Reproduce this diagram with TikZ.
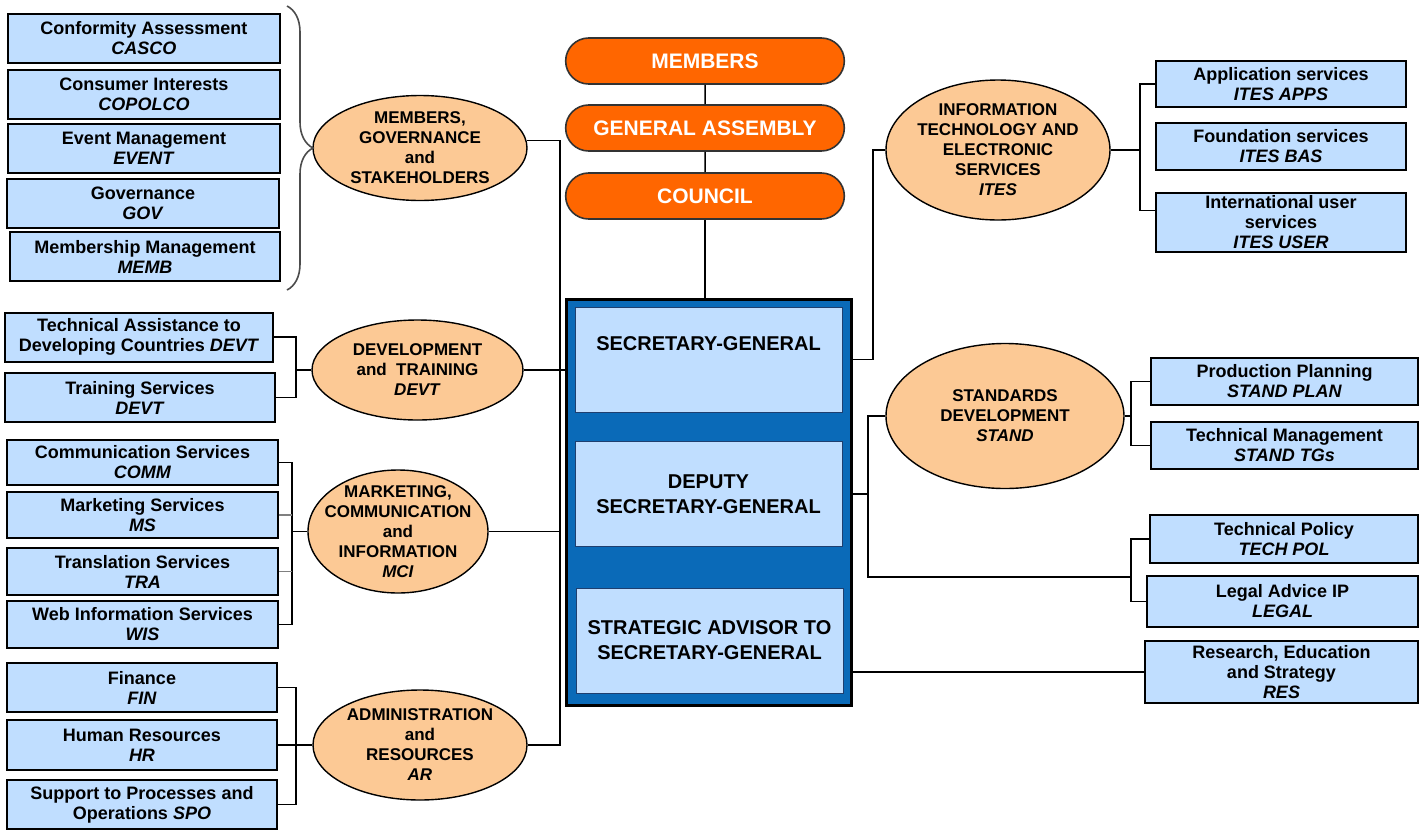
\documentclass[tikz,border=0pt]{standalone}
\usepackage{fontspec}
\setmainfont{Liberation Sans}
\usetikzlibrary{shapes.geometric, shapes.misc, decorations.pathreplacing}

\definecolor{unitblue}{HTML}{C0DEFF}
\definecolor{deptorange}{HTML}{FCC995}
\definecolor{boardorange}{HTML}{FF6600}
\definecolor{sgblue}{HTML}{0A6AB8}
\definecolor{sgline}{HTML}{1F3F6F}

\newcommand{\abbr}[1]{\textit{#1}}

\tikzset{
    unit/.style={draw=black, line width=1pt, fill=unitblue, align=center, inner sep=0pt,
        minimum width=136pt, minimum height=24.5pt, font=\fontsize{9}{10}\selectfont\bfseries},
    dept/.style={ellipse, draw=black, line width=0.7pt, fill=deptorange, inner sep=0pt},
    depttext/.style={align=center, inner sep=0pt, font=\fontsize{8.5}{10}\selectfont\bfseries},
    board/.style={rounded rectangle, draw=black!80, line width=0.8pt, fill=boardorange, text=white,
        minimum width=146pt, minimum height=23pt, font=\fontsize{10.5}{12}\selectfont\bfseries},
    office/.style={draw=sgline, line width=0.5pt, fill=unitblue, align=center,
        minimum width=133.5pt, minimum height=52.5pt, font=\fontsize{10}{12.5}\selectfont\bfseries},
    link/.style={draw=black, line width=0.75pt},
    thinlink/.style={draw=black, line width=0.6pt},
}

\begin{document}
\begin{tikzpicture}[x=0.5pt, y=-0.5pt]
    \useasboundingbox (0,0) rectangle (1426,831);

    % governing bodies
    \node[board] (members) at (705,61) {MEMBERS};
    \node[board] (ga) at (705,128) {GENERAL ASSEMBLY};
    \node[board] (council) at (705,196) {COUNCIL};

    % secretariat
    \node[draw=black, line width=1.5pt, fill=sgblue, minimum width=142.5pt, minimum height=203pt] (sgframe) at (708.5,502) {};
    \node[office] (sg) at (708.5,359.5) {SECRETARY-GENERAL\\ \strut};
    \node[office] (dsg) at (708.5,494) {DEPUTY\\SECRETARY-GENERAL};
    \node[office] (sa) at (709.5,640.5) {STRATEGIC ADVISOR TO\\SECRETARY-GENERAL};

    % left departments
    \node[unit] (casco) at (144,38.5) {Conformity Assessment\\\abbr{CASCO}};
    \node[unit] (copolco) at (144,94) {Consumer Interests\\\abbr{COPOLCO}};
    \node[unit] (event) at (144,148.5) {Event Management\\\abbr{EVENT}};
    \node[unit] (gov) at (143,203.5) {Governance\\\abbr{GOV}};
    \node[unit, minimum width=135pt] (memb) at (145,256.5) {Membership Management\\\abbr{MEMB}};
    \node[dept, minimum width=107pt, minimum height=52.5pt,
        label={[depttext]center:{MEMBERS,\\GOVERNANCE\\and\\STAKEHOLDERS}}] (mgs) at (420,148) {};

    \node[unit, minimum width=134pt] (tadc) at (139,337) {Technical Assistance to\\Developing Countries \abbr{DEVT}};
    \node[unit, minimum width=135pt] (train) at (140,397.5) {Training Services\\\abbr{DEVT}};
    \node[dept, minimum width=105.5pt, minimum height=50pt,
        label={[depttext]center:{DEVELOPMENT\\and\ \ TRAINING\\\abbr{DEVT}}}] (devt) at (417.5,370) {};

    \node[unit, minimum width=135.5pt, minimum height=22.5pt] (comm) at (142.5,462.5) {Communication Services\\\abbr{COMM}};
    \node[unit, minimum width=135.5pt, minimum height=23pt] (ms) at (142.5,515) {Marketing Services\\\abbr{MS}};
    \node[unit, minimum width=135.5pt, minimum height=23.5pt] (tra) at (142.5,571.5) {Translation Services\\\abbr{TRA}};
    \node[unit, minimum width=135.5pt, minimum height=23.5pt] (wis) at (142.5,624.5) {Web Information Services\\\abbr{WIS}};
    \node[dept, minimum width=90pt, minimum height=61.5pt,
        label={[depttext]center:{MARKETING,\\COMMUNICATION\\and\\INFORMATION\\\abbr{MCI}}}] (mci) at (398,531.5) {};

    \node[unit, minimum width=135pt] (fin) at (142,687.5) {Finance\\\abbr{FIN}};
    \node[unit, minimum width=135pt, minimum height=25pt] (hr) at (142,745) {Human Resources\\\abbr{HR}};
    \node[unit, minimum width=135pt] (spo) at (142,804.5) {Support to Processes and\\Operations \abbr{SPO}};
    \node[dept, minimum width=107pt, minimum height=55pt,
        label={[depttext]center:{ADMINISTRATION\\and\\RESOURCES\\\abbr{AR}}}] (ar) at (420,745) {};

    % right departments
    \node[dept, minimum width=112pt, minimum height=70pt,
        label={[depttext]center:{INFORMATION\\TECHNOLOGY AND\\ELECTRONIC\\SERVICES\\\abbr{ITES}}}] (ites) at (998,150) {};
    \node[unit, minimum width=125pt, minimum height=23pt] (apps) at (1281,84) {Application services\\\abbr{ITES APPS}};
    \node[unit, minimum width=125pt, minimum height=23.5pt] (bas) at (1281,146.5) {Foundation services\\\abbr{ITES BAS}};
    \node[unit, minimum width=125pt, minimum height=29.5pt] (user) at (1281,222.5) {International user\\services\\\abbr{ITES USER}};

    \node[dept, minimum width=119pt, minimum height=72.5pt,
        label={[depttext]center:{STANDARDS\\DEVELOPMENT\\\abbr{STAND}}}] (stand) at (1005,416) {};
    \node[unit, minimum width=133.5pt, minimum height=23.5pt] (plan) at (1284.5,381.5) {Production Planning\\\abbr{STAND PLAN}};
    \node[unit, minimum width=133.5pt, minimum height=23.5pt] (tgs) at (1284.5,445.5) {Technical Management\\\abbr{STAND TGs}};

    \node[unit, minimum width=134pt, minimum height=24pt] (techpol) at (1284,539) {Technical Policy\\\abbr{TECH POL}};
    \node[unit, minimum width=135.5pt, minimum height=25.5pt] (legal) at (1282.5,601.5) {Legal Advice IP\\\abbr{LEGAL}};
    \node[unit, minimum width=136.5pt, minimum height=31pt] (res) at (1281.5,672) {Research, Education\\and Strategy\\\abbr{RES}};

    % connectors
    \draw[link] (members) -- (ga);
    \draw[link] (ga) -- (council);
    \draw[link] (council.south) -- (council.south |- sgframe.north);

    \draw[line width=0.8pt, draw=black!70, decorate, decoration={brace, amplitude=13pt}] (287,6) -- (287,290);

    \coordinate (ltrunk) at (560,0);
    \draw[link] (mgs.4) -| (ltrunk |- ar.east) -- (ar.east);
    \draw[link] (devt.east) -- (sgframe.west |- devt.east);
    \draw[link] (mci.east) -- (ltrunk |- mci.east);

    \coordinate (devtbar) at (296,0);
    \draw[thinlink] (tadc.east) -| (devtbar |- train.east) -- (train.east);
    \draw[link] (devtbar |- devt.west) -- (devt.west);

    \coordinate (mcibar) at (292,0);
    \draw[thinlink] (comm.east) -| (mcibar |- wis.east) -- (wis.east);
    \draw[thinlink, draw=gray] (ms.east) -- (mcibar |- ms.east);
    \draw[thinlink, draw=gray] (tra.east) -- (mcibar |- tra.east);
    \draw[link] (mcibar |- mci.west) -- (mci.west);

    \coordinate (arbar) at (296,0);
    \draw[thinlink] (fin.east) -| (arbar |- spo.east) -- (spo.east);
    \draw[thinlink] (hr.east) -- (ar.west);

    \coordinate (rtrunka) at (873,0);
    \draw[link] (sgframe.east |- sg.east) -| (rtrunka |- ites.west) -- (ites.west);
    \coordinate (itesbar) at (1140,0);
    \coordinate (userlink) at ([yshift=6pt]user.west);
    \draw[link] (apps.west) -| (itesbar |- userlink) -- (userlink);
    \draw[link] (ites.east) -- (itesbar |- ites.east);

    \coordinate (rtrunkb) at (868,0);
    \coordinate (polfork) at (1131,577);
    \coordinate (standbar) at (1131,0);
    \draw[link] (stand.west) -| (rtrunkb |- polfork) -- (polfork);
    \draw[link] (sgframe.east |- dsg.east) -- (rtrunkb |- dsg.east);
    \draw[link] (plan.west) -| (standbar |- tgs.west) -- (tgs.west);
    \draw[link] (stand.east) -- (standbar |- stand.east);
    \draw[link] (techpol.west) -| (standbar |- legal.west) -- (legal.west);
    \draw[link] (res.west) -- (sgframe.east |- res.west);
\end{tikzpicture}
\end{document}
